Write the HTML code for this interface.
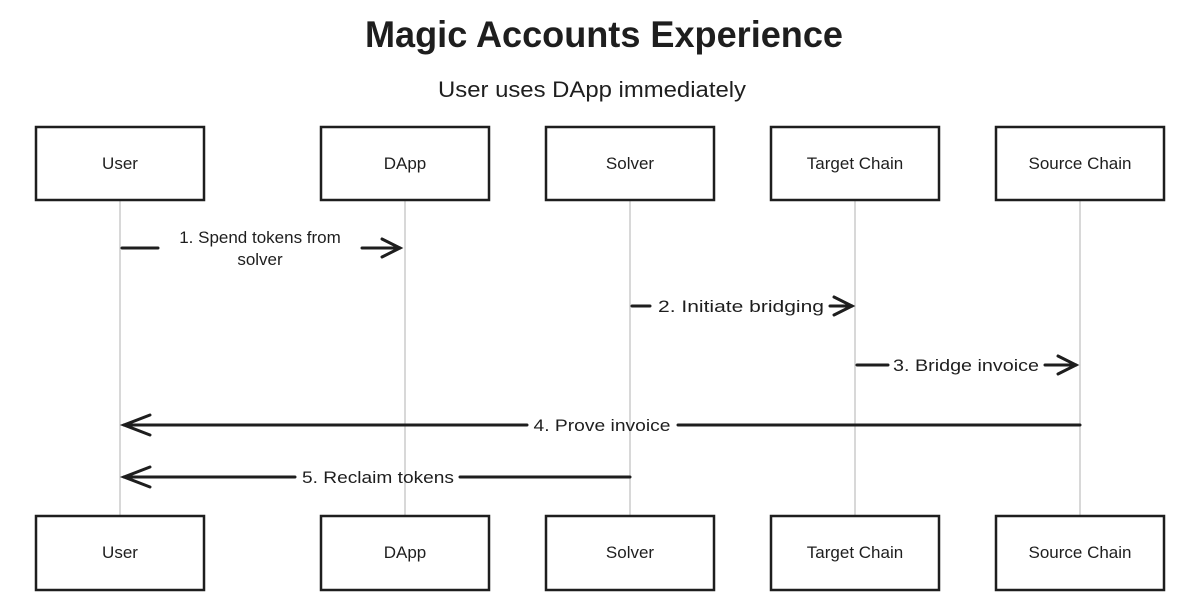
<!DOCTYPE html>
<html><head><meta charset="utf-8"><style>
html,body{margin:0;padding:0;background:#fff;}
svg{display:block;}
text{font-family:"Liberation Sans",sans-serif;fill:#1e1e1e;}
</style></head><body>
<svg width="1200" height="614" viewBox="0 0 1200 614" xmlns="http://www.w3.org/2000/svg">
<rect width="1200" height="614" fill="#fff"/>
<text x="604" y="47" font-size="37" font-weight="bold" text-anchor="middle" textLength="478" lengthAdjust="spacingAndGlyphs">Magic Accounts Experience</text>
<text x="592" y="97" font-size="22" text-anchor="middle" textLength="308" lengthAdjust="spacingAndGlyphs">User uses DApp immediately</text>
<g stroke="#b0b0b0" stroke-width="1">
<line x1="120" y1="200" x2="120" y2="516"/>
<line x1="405" y1="200" x2="405" y2="516"/>
<line x1="630" y1="200" x2="630" y2="516"/>
<line x1="855" y1="200" x2="855" y2="516"/>
<line x1="1080" y1="200" x2="1080" y2="516"/>
</g>
<g fill="#fff" stroke="#1e1e1e" stroke-width="2.5">
<rect x="36" y="127" width="168" height="73"/>
<rect x="321" y="127" width="168" height="73"/>
<rect x="546" y="127" width="168" height="73"/>
<rect x="771" y="127" width="168" height="73"/>
<rect x="996" y="127" width="168" height="73"/>
<rect x="36" y="516" width="168" height="74"/>
<rect x="321" y="516" width="168" height="74"/>
<rect x="546" y="516" width="168" height="74"/>
<rect x="771" y="516" width="168" height="74"/>
<rect x="996" y="516" width="168" height="74"/>
</g>
<g font-size="17" text-anchor="middle">
<text x="120" y="169">User</text><text x="405" y="169">DApp</text><text x="630" y="169">Solver</text><text x="855" y="169">Target Chain</text><text x="1080" y="169">Source Chain</text>
<text x="120" y="558">User</text><text x="405" y="558">DApp</text><text x="630" y="558">Solver</text><text x="855" y="558">Target Chain</text><text x="1080" y="558">Source Chain</text>
</g>
<g stroke="#1e1e1e" stroke-width="3" fill="none" stroke-linecap="round">
<line x1="122" y1="248" x2="158" y2="248"/><line x1="362" y1="248" x2="400" y2="248"/><path d="M382 239 L400 248 L382 257"/>
<line x1="632" y1="306" x2="650" y2="306"/><line x1="830" y1="306" x2="852" y2="306"/><path d="M834 297 L852 306 L834 315"/>
<line x1="857" y1="365" x2="888" y2="365"/><line x1="1045" y1="365" x2="1076" y2="365"/><path d="M1058 356 L1076 365 L1058 374"/>
<line x1="1080" y1="425" x2="678" y2="425"/><line x1="527" y1="425" x2="124" y2="425"/><path d="M150 415 L124 425 L150 435"/>
<line x1="630" y1="477" x2="460" y2="477"/><line x1="295" y1="477" x2="124" y2="477"/><path d="M150 467 L124 477 L150 487"/>
</g>
<g font-size="17" text-anchor="middle">
<text x="260" y="243">1. Spend tokens from</text><text x="260" y="265">solver</text>
<text x="741" y="312" textLength="166" lengthAdjust="spacingAndGlyphs">2. Initiate bridging</text>
<text x="966" y="371" textLength="146" lengthAdjust="spacingAndGlyphs">3. Bridge invoice</text>
<text x="602" y="431" textLength="137" lengthAdjust="spacingAndGlyphs">4. Prove invoice</text>
<text x="378" y="483" textLength="152" lengthAdjust="spacingAndGlyphs">5. Reclaim tokens</text>
</g>
</svg>
</body></html>
